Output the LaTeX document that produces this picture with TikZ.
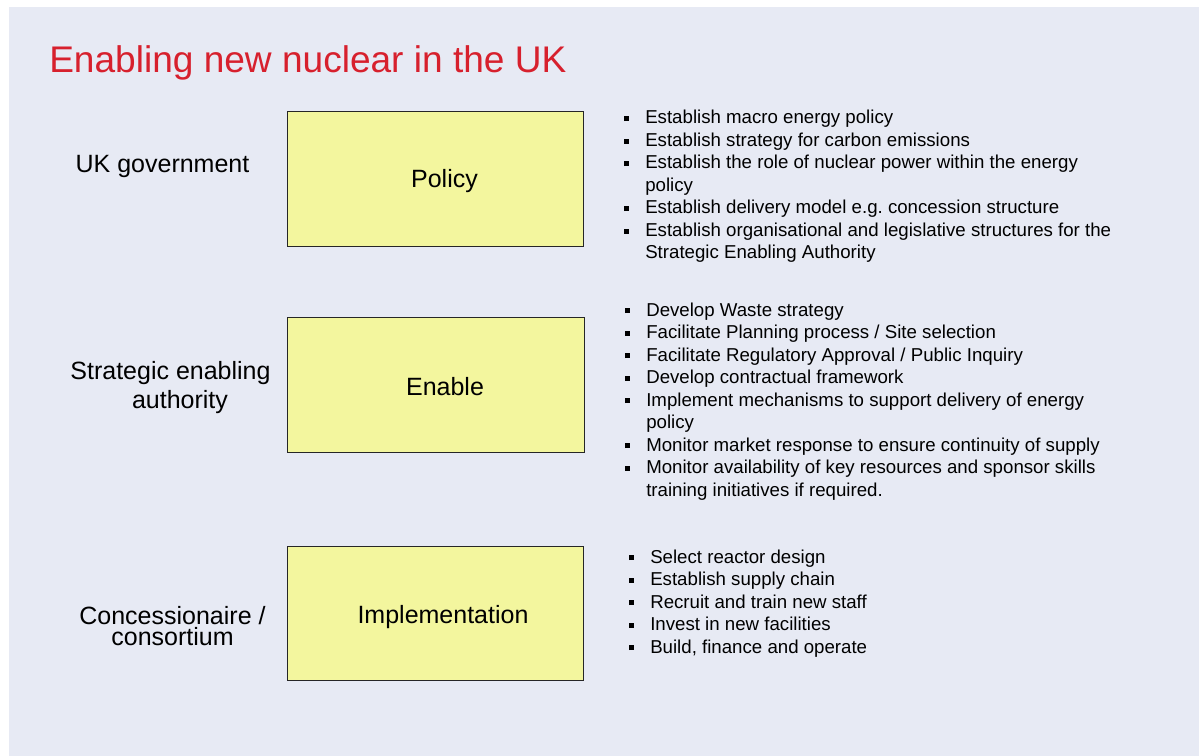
\documentclass[tikz,border=0pt]{standalone}
\usepackage{fontspec}
\setmainfont{Liberation Sans}
\definecolor{slidebg}{HTML}{E7EAF4}
\definecolor{stagefill}{HTML}{F3F69E}
\definecolor{titlered}{HTML}{D7202D}
% small square bullet followed by the hanging gap
\newcommand\sqbullet[1]{\makebox[#1][l]{\raisebox{2.2pt}{\rule{3.7pt}{3.7pt}}}}
\begin{document}
\frenchspacing
\begin{tikzpicture}[x=0.75pt,y=-0.75pt,
  stagebox/.style={draw=black!85, fill=stagefill, line width=0.75pt, inner sep=0pt},
  stagetext/.style={anchor=base, inner sep=0pt, font=\fontsize{18.75}{22}\selectfont},
  actor/.style={anchor=base, inner sep=0pt, font=\fontsize{18.75}{22.5}\selectfont},
  tasks/.style={anchor=base west, inner sep=0pt, font=\fontsize{14}{16.875}\selectfont},
  heading/.style={anchor=base west, inner sep=0pt, text=titlered, font=\fontsize{27.8}{32}\selectfont}]
\useasboundingbox (0,0) rectangle (1199,756);
\fill[white] (0,0) rectangle (1199,756);
\fill[slidebg] (9,7) rectangle (1199,756);

\node[heading] (title) at (49,72.7) {Enabling new nuclear in the UK};

% the three stages
\node[stagebox, minimum width=222pt, minimum height=100.9pt] (policy) at (435,178.75) {};
\node[stagebox, minimum width=222.75pt, minimum height=100.9pt] (enable) at (435.5,384.75) {};
\node[stagebox, minimum width=222pt, minimum height=100.5pt] (impl) at (435,613.5) {};
\node[stagetext] (policytxt) at (444.5,188) {Policy};
\node[stagetext] (enabletxt) at (445,395.7) {Enable};
\node[stagetext] (impltxt) at (443,623) {Implementation};

% who is responsible
\node[actor] (gov) at (162.5,172) {UK government};
\node[actor] (sea1) at (170.5,379) {Strategic enabling};
\node[actor] (sea2) at (180,408) {authority};
\node[actor] (con) at (172.5,624) {\begin{tabular}[t]{@{}c@{}}Concessionaire /\\[-6.75pt]consortium\end{tabular}};

% responsibilities
\node[tasks] (policylist) at (624,124) {\begin{tabular}[t]{@{}l@{}l@{}}
\sqbullet{15.75pt} & Establish macro energy policy\\
\sqbullet{15.75pt} & Establish strategy for carbon emissions\\
\sqbullet{15.75pt} & Establish the role of nuclear power within the energy\\
 & policy\\
\sqbullet{15.75pt} & Establish delivery model e.g. concession structure\\
\sqbullet{15.75pt} & Establish organisational and legislative structures for the\\
 & Strategic Enabling Authority
\end{tabular}};

\node[tasks] (enablelist) at (625,316) {\begin{tabular}[t]{@{}l@{}l@{}}
\sqbullet{15.75pt} & Develop Waste strategy\\
\sqbullet{15.75pt} & Facilitate Planning process / Site selection\\
\sqbullet{15.75pt} & Facilitate Regulatory Approval / Public Inquiry\\
\sqbullet{15.75pt} & Develop contractual framework\\
\sqbullet{15.75pt} & Implement mechanisms to support delivery of energy\\
 & policy\\
\sqbullet{15.75pt} & Monitor market response to ensure continuity of supply\\
\sqbullet{15.75pt} & Monitor availability of key resources and sponsor skills\\
 & training initiatives if required.
\end{tabular}};

\node[tasks] (impllist) at (629,563) {\begin{tabular}[t]{@{}l@{}l@{}}
\sqbullet{15.75pt} & Select reactor design\\
\sqbullet{15.75pt} & Establish supply chain\\
\sqbullet{15.75pt} & Recruit and train new staff\\
\sqbullet{15.75pt} & Invest in new facilities\\
\sqbullet{15.75pt} & Build, finance and operate
\end{tabular}};
\end{tikzpicture}
\end{document}
